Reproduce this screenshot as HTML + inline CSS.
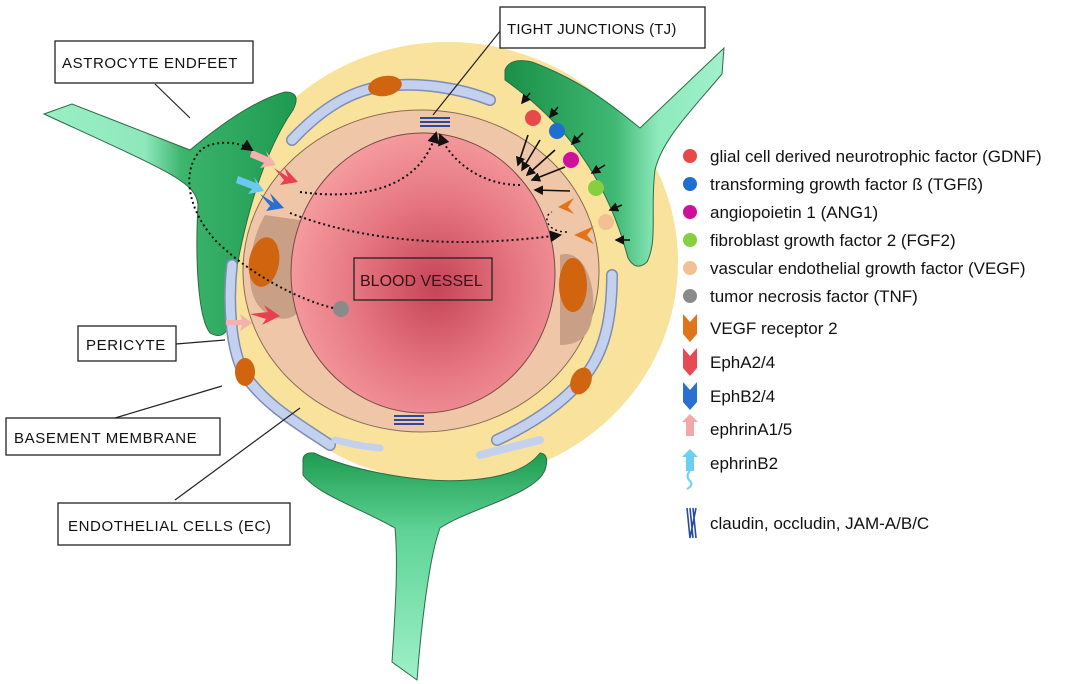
<!DOCTYPE html>
<html><head><meta charset="utf-8"><style>
html,body{margin:0;padding:0;background:#fff;}
svg{display:block;}
text{font-family:"Liberation Sans",Arial,sans-serif;}
</style></head><body>
<svg width="1080" height="684" viewBox="0 0 1080 684" xmlns="http://www.w3.org/2000/svg">
<defs>
<radialGradient id="lum" cx="0.55" cy="0.55" r="0.6">
<stop offset="0" stop-color="#c44457"/><stop offset="0.5" stop-color="#e57580"/><stop offset="1" stop-color="#f7a0a2"/></radialGradient>
<linearGradient id="gr" x1="1" y1="0" x2="0" y2="0">
<stop offset="0" stop-color="#1e9a50"/><stop offset="0.45" stop-color="#3cb46c"/><stop offset="0.6" stop-color="#8ee8bc"/><stop offset="1" stop-color="#9aefc4"/></linearGradient>
<linearGradient id="gr2" x1="0" y1="0" x2="1" y2="0">
<stop offset="0" stop-color="#1a9048"/><stop offset="0.5" stop-color="#3fb873"/><stop offset="0.7" stop-color="#8eeabd"/><stop offset="1" stop-color="#a0f0cc"/></linearGradient>
<linearGradient id="gr3" x1="0" y1="0" x2="0" y2="1">
<stop offset="0" stop-color="#1f9c50"/><stop offset="0.35" stop-color="#5fd497"/><stop offset="1" stop-color="#9ef0c8"/></linearGradient>
<marker id="ah" markerWidth="6" markerHeight="6" refX="5" refY="3" orient="auto"><path d="M0,0 L6,3 L0,6 Z" fill="#111"/></marker>
</defs>

<ellipse cx="448" cy="262" rx="230" ry="220" fill="#f8e29c"/>

<path d="M44,114 L72,104 L190,150 C220,125 255,100 285,92 Q302,92 293,110 C258,160 236,250 230,320 Q226,342 210,333 C198,318 195,260 198,205 C196,182 170,172 44,114 Z" fill="url(#gr)" stroke="#2d6b45" stroke-width="1"/>
<path d="M505,70 Q510,57 532,62 C585,82 615,108 640,128 L724,48 L722,74 C690,112 662,140 655,170 C650,210 658,240 647,262 Q636,272 628,258 C610,190 575,130 505,80 Z" fill="url(#gr2)" stroke="#2d6b45" stroke-width="1"/>
<path d="M303,462 Q302,452 314,453 C350,470 420,484 470,480 C510,477 530,466 540,453 Q550,454 545,470 C535,495 470,508 440,528 C428,560 420,640 417,680 L392,662 C396,600 398,560 395,528 C360,508 318,495 303,475 Z" fill="url(#gr3)" stroke="#2d6b45" stroke-width="1"/>

<g fill="none" stroke-linecap="round" stroke-linejoin="round">
<path d="M292,140 C320,110 350,90 385,86 C420,82 460,88 490,100" stroke="#7e8db5" stroke-width="12"/>
<path d="M292,140 C320,110 350,90 385,86 C420,82 460,88 490,100" stroke="#c3d0ee" stroke-width="9"/>
<path d="M232,265 C228,300 230,350 245,375 C265,405 300,425 330,445" stroke="#7e8db5" stroke-width="12"/>
<path d="M232,265 C228,300 230,350 245,375 C265,405 300,425 330,445" stroke="#c3d0ee" stroke-width="9"/>
<path d="M612,275 C612,330 600,360 580,382 C560,405 530,425 497,440" stroke="#7e8db5" stroke-width="12"/>
<path d="M612,275 C612,330 600,360 580,382 C560,405 530,425 497,440" stroke="#c3d0ee" stroke-width="9"/>
<path d="M480,455 C500,450 520,445 540,440" stroke="#c3d0ee" stroke-width="8"/>
<path d="M380,448 C355,446 345,442 335,440" stroke="#c3d0ee" stroke-width="7"/>
</g>
<ellipse cx="385" cy="86" rx="17" ry="10" fill="#d0640f" transform="rotate(-10 385 86)"/>
<ellipse cx="245" cy="372" rx="10" ry="14" fill="#d0640f"/>
<ellipse cx="581" cy="381" rx="10" ry="14" fill="#d0640f" transform="rotate(25 581 381)"/>

<ellipse cx="421" cy="271" rx="178" ry="161" fill="#efc7a8" stroke="#8a6a55" stroke-width="1"/>
<path d="M265,215 C250,240 245,280 255,300 C265,320 290,325 300,310 L300,220 Z" fill="#c9a085"/>
<path d="M560,255 C575,250 590,265 593,295 C595,330 585,345 560,345 Z" fill="#c9a085"/>
<ellipse cx="423" cy="273" rx="132" ry="140" fill="url(#lum)" stroke="#7a4a45" stroke-width="1"/>
<ellipse cx="264" cy="262" rx="15" ry="25" fill="#d0640f" transform="rotate(10 264 262)"/>
<ellipse cx="573" cy="285" rx="14" ry="27" fill="#d0640f"/>

<g stroke="#2a4aa0" stroke-width="2">
<line x1="420" y1="118" x2="450" y2="118"/><line x1="420" y1="122" x2="450" y2="122"/><line x1="420" y1="126" x2="450" y2="126"/>
<line x1="394" y1="416" x2="424" y2="416"/><line x1="394" y1="420" x2="424" y2="420"/><line x1="394" y1="424" x2="424" y2="424"/>
</g>

<circle cx="533" cy="118" r="8" fill="#e84848"/>
<circle cx="557" cy="131" r="8" fill="#1e6fd0"/>
<circle cx="571" cy="160" r="8" fill="#d0109c"/>
<circle cx="596" cy="188" r="8" fill="#86d040"/>
<circle cx="606" cy="222" r="8" fill="#f3c094"/>
<circle cx="341" cy="309" r="8" fill="#8a8a8a"/>

<path d="M252,150 l16,7 l-2,-6 l10,14 l-16,3 l4,-5 l-14,-6 Z" fill="#f5b0b0"/>
<path d="M274,168 l14,9 l-4,-10 l14,15 l-18,3 l4,-5 Z" fill="#e84050"/>
<path d="M238,176 l18,7 l-2,-6 l10,14 l-16,3 l4,-5 l-16,-6 Z" fill="#6cc8f0"/>
<path d="M260,194 l14,9 l-4,-10 l14,15 l-18,3 l4,-5 Z" fill="#2a6ed0"/>
<path d="M226,320 l16,0 l-2,-6 l12,9 l-12,8 l2,-6 l-16,0 Z" fill="#f5b0b0"/>
<path d="M250,314 l18,-2 l-4,-7 l16,11 l-18,9 l4,-6 Z" fill="#e84050"/>
<path d="M574,198 l-16,9 l16,7 l-6,-7 Z" fill="#e0741a"/>
<path d="M594,226 l-20,9 l20,9 l-7,-9 Z" fill="#e0741a"/>

<g stroke="#111" stroke-width="1.6" marker-end="url(#ah)">
<line x1="530" y1="93" x2="522" y2="103"/>
<line x1="558" y1="107" x2="550" y2="117"/>
<line x1="583" y1="133" x2="572" y2="144"/>
<line x1="605" y1="165" x2="592" y2="173"/>
<line x1="622" y1="205" x2="610" y2="210"/>
<line x1="630" y1="240" x2="616" y2="240"/>
<line x1="528" y1="135" x2="518" y2="165"/>
<line x1="540" y1="140" x2="522" y2="170"/>
<line x1="555" y1="150" x2="527" y2="175"/>
<line x1="565" y1="167" x2="532" y2="180"/>
<line x1="570" y1="191" x2="535" y2="190"/>
</g>

<g fill="none" stroke="#111" stroke-width="2" stroke-dasharray="2 3">
<path d="M300,192 C360,200 420,190 436,133" marker-end="url(#ah)"/>
<path d="M520,185 C480,185 450,160 440,135" marker-end="url(#ah)"/>
<path d="M290,213 C360,240 450,250 560,235" marker-end="url(#ah)"/>
<path d="M567,232 C545,232 543,215 552,212" stroke-width="1.5"/>
<path d="M333,308 C300,300 250,275 215,240 C180,200 185,160 205,147 C220,140 240,142 252,150" marker-end="url(#ah)"/>
</g>

<g stroke="#222" stroke-width="1.2" fill="none">
<line x1="155" y1="84" x2="190" y2="118"/>
<line x1="505" y1="25" x2="433" y2="115"/>
<line x1="176" y1="344" x2="225" y2="340"/>
<line x1="115" y1="418" x2="222" y2="386"/>
<line x1="175" y1="500" x2="300" y2="408"/>
</g>
<g fill="#fff" stroke="#222" stroke-width="1.3">
<rect x="55" y="41" width="198" height="42"/>
<rect x="500" y="7" width="205" height="41"/>
<rect x="78" y="326" width="98" height="35"/>
<rect x="6" y="418" width="214" height="37"/>
<rect x="58" y="503" width="232" height="42"/>
<rect x="354" y="258" width="138" height="42" fill="none"/>
</g>
<g font-size="15" fill="#111" letter-spacing="0.6">
<text x="62" y="68">ASTROCYTE  ENDFEET</text>
<text x="507" y="34" letter-spacing="0.2">TIGHT JUNCTIONS (TJ)</text>
<text x="86" y="350">PERICYTE</text>
<text x="14" y="443">BASEMENT  MEMBRANE</text>
<text x="68" y="531">ENDOTHELIAL  CELLS (EC)</text>
<text x="360" y="286" font-size="16" letter-spacing="0" fill="#3a1015">BLOOD VESSEL</text>
</g>

<circle cx="690" cy="156" r="7" fill="#e84848"/>
<circle cx="690" cy="184" r="7" fill="#1e6fd0"/>
<circle cx="690" cy="212" r="7" fill="#d0109c"/>
<circle cx="690" cy="240" r="7" fill="#86d040"/>
<circle cx="690" cy="268" r="7" fill="#f3c094"/>
<circle cx="690" cy="296" r="7" fill="#8a8a8a"/>
<path d="M683,314 l7,8 l7,-8 l0,20 l-7,8 l-7,-8 Z" fill="#e0741a"/>
<path d="M683,348 l7,8 l7,-8 l0,20 l-7,8 l-7,-8 Z" fill="#e84a55"/>
<path d="M683,382 l7,8 l7,-8 l0,20 l-7,8 l-7,-8 Z" fill="#2a70d0"/>
<path d="M690,414 l8,8 l-4,0 l0,14 l-8,0 l0,-14 l-4,0 Z" fill="#f4a8a8"/>
<path d="M690,449 l8,8 l-4,0 l0,14 l-8,0 l0,-14 l-4,0 Z" fill="#6cd0f4"/>
<path d="M690,471 q-5,5 0,10 q4,4 -3,8" fill="none" stroke="#6cd0f4" stroke-width="2"/>
<path d="M687,508 l3,30 M690,508 l3,30 M693,508 l3,30 M696,508 l-6,30" stroke="#2a4aa0" stroke-width="1.6" fill="none"/>
<g font-size="17" fill="#111">
<text x="710" y="162">glial cell derived neurotrophic factor (GDNF)</text>
<text x="710" y="190">transforming growth factor ß (TGFß)</text>
<text x="710" y="218">angiopoietin 1 (ANG1)</text>
<text x="710" y="246">fibroblast growth factor 2 (FGF2)</text>
<text x="710" y="274">vascular endothelial growth factor (VEGF)</text>
<text x="710" y="302">tumor necrosis factor (TNF)</text>
<text x="710" y="334">VEGF receptor 2</text>
<text x="710" y="368">EphA2/4</text>
<text x="710" y="402">EphB2/4</text>
<text x="710" y="435">ephrinA1/5</text>
<text x="710" y="469">ephrinB2</text>
<text x="710" y="529">claudin, occludin, JAM-A/B/C</text>
</g>
</svg>
</body></html>
